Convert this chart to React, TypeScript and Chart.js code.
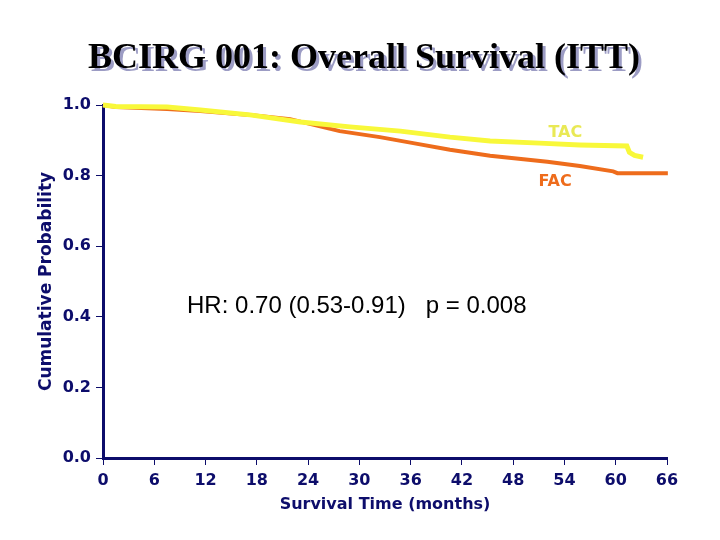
import React, { useEffect, useRef } from "react";
import { Chart, registerables } from "chart.js";

Chart.register(...registerables);

const chartTitle = "BCIRG 001: Overall Survival (ITT)";
const xAxisTitle = "Survival Time (months)";
const yAxisTitle = "Cumulative Probability";
const hrText = "HR: 0.70 (0.53-0.91)   p = 0.008";

const xTicks = [0, 6, 12, 18, 24, 30, 36, 42, 48, 54, 60, 66];
const yTicks = [0, 0.2, 0.4, 0.6, 0.8, 1.0];

const tacMonths = [0, 1.5, 7.5, 11.4, 17.2, 23.1, 28.9, 34.8, 40.6, 45.3, 51.1, 55.8, 61.3, 61.6, 62.2, 63.2];
const tacValues = [1.0, 0.996, 0.994, 0.986, 0.972, 0.952, 0.938, 0.926, 0.909, 0.898, 0.892, 0.887, 0.884, 0.866, 0.857, 0.852];

const facMonths = [0, 1.5, 7.5, 11.4, 17.2, 21.9, 27.7, 32.4, 36.3, 40.6, 45.3, 52.0, 55.8, 59.7, 60.2, 66.1];
const facValues = [1.0, 0.994, 0.989, 0.983, 0.972, 0.96, 0.926, 0.909, 0.892, 0.873, 0.856, 0.839, 0.827, 0.812, 0.807, 0.807];

const seriesLabels = ["TAC", "FAC"];
const labelPos = [
  { x: 54.1, y: 0.921 },
  { x: 52.9, y: 0.782 },
];
const hrPos = { x: 29.7, y: 0.43 };

const NAVY = "#0d0d6b";
const YELLOW = "#f8f83a";
const ORANGE = "#ee6c1c";

export default function App() {
  const ref = useRef<HTMLCanvasElement | null>(null);

  useEffect(() => {
    if (!ref.current) return;
    const textPlugin = {
      id: "texts",
      afterDraw(chart: any) {
        const ctx = chart.ctx;
        const xs = chart.scales.x;
        const ys = chart.scales.y;
        ctx.save();
        // title with shadow
        ctx.font = 'bold 36px "Liberation Serif", serif';
        ctx.textAlign = "center";
        ctx.textBaseline = "alphabetic";
        ctx.fillStyle = "#9c9cc4";
        ctx.fillText(chartTitle, 367, 71);
        ctx.fillStyle = "#000000";
        ctx.fillText(chartTitle, 364, 68);
        // HR text
        ctx.font = '24px "Liberation Sans", Arial, sans-serif';
        ctx.textBaseline = "middle";
        ctx.fillStyle = "#000000";
        ctx.fillText(hrText, xs.getPixelForValue(hrPos.x), ys.getPixelForValue(hrPos.y));
        // series labels
        ctx.font = 'bold 16px "DejaVu Sans", sans-serif';
        ctx.fillStyle = "#e9e955";
        ctx.fillText(seriesLabels[0], xs.getPixelForValue(labelPos[0].x), ys.getPixelForValue(labelPos[0].y));
        ctx.fillStyle = ORANGE;
        ctx.fillText(seriesLabels[1], xs.getPixelForValue(labelPos[1].x), ys.getPixelForValue(labelPos[1].y));
        ctx.restore();
      },
    };

    const chart = new Chart(ref.current, {
      type: "line",
      data: {
        datasets: [
          {
            label: seriesLabels[0],
            data: tacMonths.map((m, i) => ({ x: m, y: tacValues[i] })),
            borderColor: YELLOW,
            borderWidth: 5,
            pointRadius: 0,
            tension: 0,
            clip: false as any,
            order: 1,
          },
          {
            label: seriesLabels[1],
            data: facMonths.map((m, i) => ({ x: m, y: facValues[i] })),
            borderColor: ORANGE,
            borderWidth: 4,
            pointRadius: 0,
            tension: 0,
            clip: false as any,
            order: 2,
          },
        ],
      },
      options: {
        responsive: false,
        animation: false,
        layout: { padding: { top: 105, right: 53, bottom: 26, left: 36 } },
        plugins: {
          legend: { display: false },
          tooltip: { enabled: false },
          title: { display: false },
        },
        scales: {
          x: {
            type: "linear",
            min: 0,
            max: 66,
            afterFit: (s: any) => {
              s.height = 56;
            },
            afterBuildTicks: (s: any) => {
              s.ticks = xTicks.map((v) => ({ value: v }));
            },
            ticks: {
              color: NAVY,
              font: { family: "DejaVu Sans", size: 16, weight: "bold" },
              padding: 6,
              maxRotation: 0,
              autoSkip: false,
            },
            grid: {
              drawOnChartArea: false,
              drawTicks: true,
              tickLength: 7,
              color: NAVY,
              lineWidth: 1,
            },
            border: { display: true, color: NAVY, width: 3 },
            title: {
              display: true,
              text: xAxisTitle,
              color: NAVY,
              font: { family: "DejaVu Sans", size: 16, weight: "bold" },
              padding: 0,
            },
          },
          y: {
            type: "linear",
            min: 0,
            max: 1,
            afterFit: (s: any) => {
              s.width = 67;
            },
            afterBuildTicks: (s: any) => {
              s.ticks = yTicks.map((v) => ({ value: v }));
            },
            ticks: {
              color: NAVY,
              font: { family: "DejaVu Sans", size: 16, weight: "bold" },
              padding: 5,
              callback: (v: any) => Number(v).toFixed(1),
            },
            grid: {
              drawOnChartArea: false,
              drawTicks: true,
              tickLength: 7,
              color: NAVY,
              lineWidth: 1,
            },
            border: { display: true, color: NAVY, width: 3 },
            title: {
              display: true,
              text: yAxisTitle,
              color: NAVY,
              font: { family: "DejaVu Sans", size: 17, weight: "bold" },
              padding: 0,
            },
          },
        },
      },
      plugins: [textPlugin],
    });
    return () => chart.destroy();
  }, []);

  return (
    <div style={{ position: "absolute", left: 0, top: 0, width: 720, height: 540, background: "#fff" }}>
      <canvas ref={ref} width={720} height={540} style={{ width: 720, height: 540 }} />
    </div>
  );
}
